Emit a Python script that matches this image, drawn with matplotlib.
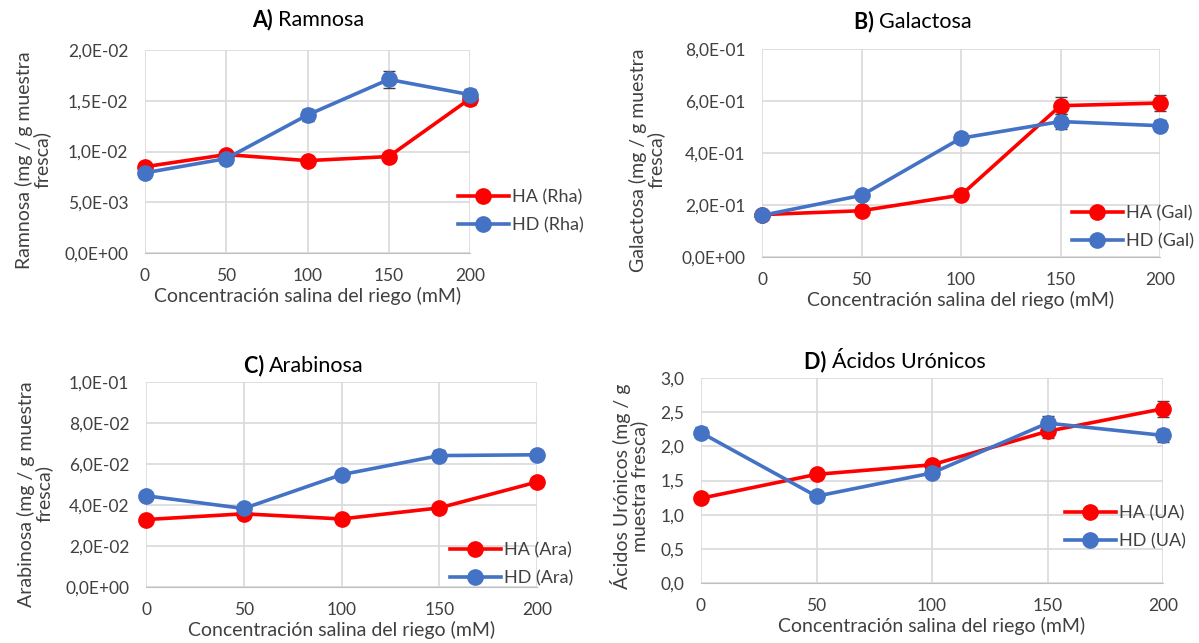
import matplotlib
matplotlib.use("Agg")
import matplotlib.pyplot as plt
from matplotlib.ticker import FuncFormatter
from matplotlib.lines import Line2D

plt.rcParams['font.family'] = ['Lato', 'DejaVu Sans']

salinity = [0, 50, 100, 150, 200]

rha_ha = [0.0085, 0.0097, 0.0091, 0.0095, 0.0152]
rha_hd = [0.0079, 0.0093, 0.0136, 0.0171, 0.0156]
rha_ha_err = [0.0002, 0.0002, 0.0002, 0.0002, 0.0006]
rha_hd_err = [0.0002, 0.0002, 0.0006, 0.0008, 0.0006]

gal_ha = [0.163, 0.178, 0.238, 0.582, 0.592]
gal_hd = [0.160, 0.237, 0.457, 0.521, 0.505]
gal_ha_err = [0.005, 0.005, 0.008, 0.032, 0.030]
gal_hd_err = [0.005, 0.008, 0.018, 0.028, 0.020]

ara_ha = [0.0329, 0.0357, 0.0332, 0.0386, 0.0512]
ara_hd = [0.0445, 0.0383, 0.0548, 0.0641, 0.0645]
ara_ha_err = [0.0008, 0.0008, 0.0008, 0.0010, 0.0012]
ara_hd_err = [0.0008, 0.0008, 0.0015, 0.0025, 0.0020]

ua_ha = [1.24, 1.59, 1.73, 2.22, 2.55]
ua_hd = [2.20, 1.27, 1.61, 2.34, 2.16]
ua_ha_err = [0.03, 0.04, 0.05, 0.10, 0.12]
ua_hd_err = [0.08, 0.03, 0.05, 0.10, 0.10]

RED = '#FF0000'
BLUE = '#4472C4'
TXT = '#404040'
W, H = 1199, 643

fig = plt.figure(figsize=(W / 100, H / 100), dpi=100)


def sci_fmt(v, pos):
    return ('%.1E' % v).replace('.', ',')


def dec_fmt(v, pos):
    return ('%.1f' % v).replace('.', ',')


def add_panel(box, ha, hd, ha_err, hd_err, ymax, ystep, fmt, labels,
              title, ylabel, title_xy, ylabel_xy, leg_anchor):
    l, r, t, b = box
    ax = fig.add_axes([l / W, 1 - b / H, (r - l) / W, (b - t) / H])
    ax.errorbar(salinity, ha, yerr=ha_err, color=RED, lw=2.6, marker='o', ms=11,
                ecolor='#404040', elinewidth=1.2, capsize=4, label=labels[0], zorder=3)
    ax.errorbar(salinity, hd, yerr=hd_err, color=BLUE, lw=2.6, marker='o', ms=11,
                ecolor='#404040', elinewidth=1.2, capsize=4, label=labels[1], zorder=4)
    ax.set_xlim(0, 200)
    ax.set_ylim(0, ymax)
    ax.set_xticks(salinity)
    ax.set_yticks([i * ystep for i in range(int(round(ymax / ystep)) + 1)])
    ax.yaxis.set_major_formatter(FuncFormatter(fmt))
    ax.grid(True, color='#D9D9D9', lw=1.2)
    ax.set_axisbelow(True)
    for s in ['top', 'right', 'left']:
        ax.spines[s].set_visible(False)
    ax.spines['bottom'].set_color('#BFBFBF')
    ax.tick_params(length=0, labelsize=12.5, colors=TXT)
    ax.tick_params(axis='x', pad=11)
    ax.tick_params(axis='y', pad=12)
    ax.set_xlabel('Concentración salina del riego (mM)', fontsize=14,
                  color=TXT, labelpad=2)
    for line in ax.lines:
        line.set_clip_on(False)

    handles = [Line2D([], [], color=RED, lw=2.6, marker='o', ms=11),
               Line2D([], [], color=BLUE, lw=2.6, marker='o', ms=11)]
    ax.legend(handles, labels, loc='center left', bbox_to_anchor=leg_anchor,
              bbox_transform=fig.transFigure, frameon=False, fontsize=13,
              handlelength=2.8, handletextpad=0.2, labelspacing=0.65,
              labelcolor=TXT, borderpad=0, borderaxespad=0)

    tx, ty = title_xy
    fig.text(tx / W, 1 - ty / H, title[0] + ' ', weight='bold', fontsize=15.5,
             ha='right', va='center', color='black')
    fig.text(tx / W, 1 - ty / H, title[1], fontsize=15.5,
             ha='left', va='center', color='black')
    lx, ly = ylabel_xy
    fig.text(lx / W, 1 - ly / H, ylabel, rotation=90, fontsize=14,
             ha='center', va='center', multialignment='center', color=TXT,
             linespacing=1.0)
    return ax


add_panel((145, 470, 50, 253), rha_ha, rha_hd, rha_ha_err, rha_hd_err,
          0.02, 0.005, sci_fmt, ['HA (Rha)', 'HD (Rha)'],
          ('A)', 'Ramnosa'), 'Ramnosa (mg / g muestra\nfresca)',
          (278, 20), (33, 160), (458 / W, 1 - 211 / H))

add_panel((762, 1160, 49, 257), gal_ha, gal_hd, gal_ha_err, gal_hd_err,
          0.8, 0.2, sci_fmt, ['HA (Gal)', 'HD (Gal)'],
          ('B)', 'Galactosa'), 'Galactosa (mg / g muestra\nfresca)',
          (879, 22), (647, 160), (1072 / W, 1 - 227 / H))

add_panel((146, 537, 382, 587), ara_ha, ara_hd, ara_ha_err, ara_hd_err,
          0.1, 0.02, sci_fmt, ['HA (Ara)', 'HD (Ara)'],
          ('C)', 'Arabinosa'), 'Arabinosa (mg / g muestra\nfresca)',
          (269, 366), (35, 494), (450 / W, 1 - 564 / H))

add_panel((701, 1163, 378, 583), ua_ha, ua_hd, ua_ha_err, ua_hd_err,
          3.0, 0.5, dec_fmt, ['HA (UA)', 'HD (UA)'],
          ('D)', 'Ácidos Urónicos'), 'Ácidos Urónicos (mg / g\nmuestra fresca)',
          (832, 362), (629, 486), (1065 / W, 1 - 527 / H))

fig.savefig('out.png', dpi=100)
